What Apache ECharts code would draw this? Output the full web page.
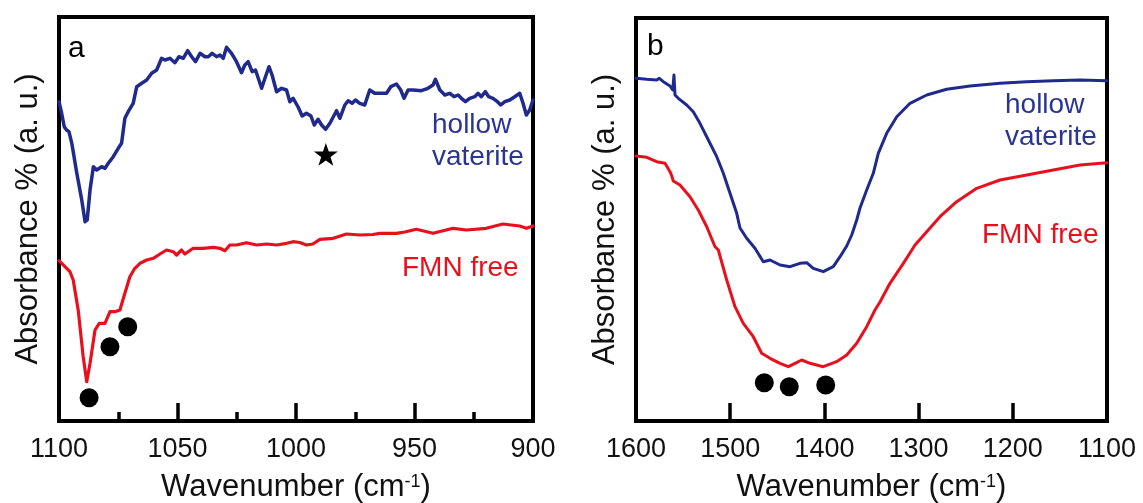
<!DOCTYPE html>
<html>
<head>
<meta charset="utf-8">
<script src="https://cdn.jsdelivr.net/npm/echarts@6/dist/echarts.min.js"></script>
<style>
  html, body { margin: 0; padding: 0; background: #fff; overflow: hidden; }
  #chart { width: 1143px; height: 503px; }
</style>
</head>
<body>
<div id="chart"></div>
<script>
// Panel a: 1100–900 cm-1, [wavenumber, absorbance (a.u.)]
const hollowVateriteA = [
  [1100, 319.3], [1098.9, 308], [1097.8, 294.3], [1096.8, 291], [1095.8, 289.3], [1094.6, 277.7],
  [1092.5, 248], [1090.4, 221], [1089.0, 199.3], [1088.1, 201], [1086.9, 231], [1085.5, 254.3],
  [1084.1, 251], [1082.0, 254.3], [1080.6, 252.7], [1079.2, 257.7], [1077.1, 264.3], [1075.0, 272.7],
  [1073.6, 277.7], [1072.2, 302.7], [1070.8, 309.3], [1068.7, 317.7], [1067.2, 334.3], [1065.1, 337.7],
  [1063.0, 341], [1060.9, 347.7], [1058.8, 351], [1056.7, 362.7], [1055.3, 361], [1053.2, 362.7],
  [1051.1, 358.3], [1049.4, 364.3], [1047.6, 362.7], [1045.7, 370.3], [1044.0, 364.3], [1042.4, 359.3],
  [1040.5, 367.7], [1038.4, 364.3], [1037.0, 364.3], [1035.4, 367.7], [1033.5, 364.3], [1032.1, 366],
  [1030.7, 362.7], [1029.3, 373.7], [1027.2, 367.7], [1025.1, 359.3], [1023.0, 348.3], [1021.6, 356],
  [1020.2, 359.3], [1018.5, 349.3], [1017.1, 351], [1014.5, 332.7], [1013.1, 342.7], [1011.4, 354.3],
  [1010.1, 346], [1008.2, 329.3], [1006.1, 332.7], [1004.0, 331], [1002.6, 319.3], [1001.2, 322.7],
  [999.1, 314], [997.4, 305], [995.6, 307.7], [993.7, 305], [992.3, 296], [990.7, 301.7],
  [989.2, 296], [987.5, 291.7], [985.7, 297.7], [982.9, 310.3], [981.5, 302.7], [979.4, 316],
  [978.0, 320.3], [976.3, 317.7], [974.9, 321], [973.1, 317.7], [971.0, 316], [968.9, 331],
  [966.8, 327.7], [963.9, 327.7], [961.8, 327.7], [960.0, 334.3], [957.6, 337], [955.8, 331],
  [954.4, 322.7], [952.7, 331], [950.6, 331], [947.1, 330.3], [944.3, 332.7], [942.2, 336],
  [941.2, 341.7], [939.3, 331], [937.2, 326], [935.1, 327.7], [933.3, 324.3], [931.6, 326],
  [930.2, 322.7], [928.5, 319.3], [926.7, 322.7], [924.6, 324.3], [923.2, 327.7], [921.8, 324.3],
  [920.1, 329.3], [918.7, 324.3], [916.9, 322.7], [915.0, 319.3], [913.6, 316], [911.9, 319.3],
  [909.8, 321], [907.7, 324.3], [905.6, 327.7], [904.2, 317.7], [902.8, 306], [901.4, 311],
  [900, 321]
];
const fmnFreeA = [
  [1100, 160.3], [1097.5, 154.3], [1095.4, 149.3], [1094.0, 141], [1091.9, 111], [1089.8, 64.3],
  [1088.3, 39.3], [1086.9, 57.7], [1084.8, 91], [1083.0, 97.7], [1080.6, 97.7], [1078.5, 109.3],
  [1076.4, 109.3], [1074.3, 111], [1072.2, 127.7], [1070.1, 144.3], [1068.0, 152.7], [1065.8, 157.7],
  [1063.0, 161], [1060.2, 162.7], [1057.4, 167], [1054.6, 171], [1051.8, 169.3], [1050.4, 166],
  [1048.3, 171], [1046.9, 167], [1045.5, 169.3], [1043.4, 172.7], [1039.2, 172.7], [1034.9, 173.7],
  [1032.1, 172.7], [1030.0, 170.3], [1027.9, 176], [1025.1, 176], [1020.9, 178.3], [1016.6, 176],
  [1012.4, 177], [1008.2, 176], [1004.0, 177.7], [1001.2, 179.3], [998.4, 178.5], [995.6, 176],
  [992.9, 177], [989.9, 181.7], [984.3, 182.7], [978.7, 187], [973.1, 186], [967.6, 186.5],
  [964.6, 187.7], [957.6, 187.7], [954.1, 189], [949.2, 191.7], [942.2, 187.7], [933.7, 192.7],
  [928.1, 191], [919.7, 192.7], [912.7, 197], [905.6, 195], [902.8, 192.7], [900, 195]
];
const bandsA = [[1087.3, 23.3], [1078.5, 74.3], [1071.0, 94.3]];
const starA = [[987.4, 266.7]];

// Panel b: 1600–1100 cm-1
const hollowVateriteB = [
  [1600, 342.7], [1588.6, 341.7], [1578.0, 341], [1575.3, 342.7], [1571.0, 339.3], [1563.9, 335],
  [1561.0, 331], [1559.7, 346], [1558.6, 326], [1555.1, 322.7], [1546.2, 316], [1539.2, 309.3],
  [1532.1, 297.7], [1523.2, 281], [1514.3, 264.3], [1507.3, 247.7], [1500.2, 227.7], [1493.1, 207.7],
  [1489.6, 193], [1482.5, 182.7], [1473.7, 172.7], [1464.9, 159.3], [1457.7, 161], [1447.1, 156],
  [1436.5, 154.3], [1425.9, 157.7], [1418.8, 158.3], [1411.8, 152.7], [1401.2, 149.3], [1390.6, 154.3],
  [1383.4, 164.3], [1376.3, 175], [1371.0, 186], [1365.7, 201], [1362.2, 213], [1355.1, 231],
  [1348.1, 247.7], [1342.8, 267.7], [1333.9, 287.7], [1323.2, 304.3], [1309.1, 317.7], [1291.4, 326],
  [1270.2, 331.7], [1245.4, 335], [1213.6, 337.7], [1185.2, 339.3], [1157.0, 340.3], [1128.7, 341],
  [1100, 340.3]
];
const fmnFreeB = [
  [1600, 265], [1588.6, 263.7], [1578.0, 259.3], [1569.2, 257.7], [1563.9, 249.3], [1562.0, 245],
  [1560.4, 240], [1553.3, 236], [1542.7, 224.3], [1533.9, 211], [1524.9, 194.3], [1516.1, 174.3],
  [1512.6, 171], [1503.7, 141], [1494.9, 114.3], [1486.1, 97.7], [1475.5, 84.3], [1466.6, 67.7],
  [1457.7, 62.7], [1447.1, 57.7], [1438.3, 54.3], [1431.2, 57.7], [1424.1, 61], [1415.3, 57.7],
  [1401.2, 54.3], [1387.1, 59.3], [1376.3, 66], [1365.7, 77.7], [1355.1, 94.3], [1346.3, 111],
  [1341.0, 119], [1330.4, 137.7], [1316.2, 157.7], [1303.8, 176], [1291.4, 189.3], [1277.3, 204.3],
  [1259.6, 219.3], [1238.3, 232.7], [1213.6, 241], [1185.2, 246], [1157.0, 251], [1128.7, 256],
  [1100, 258.3]
];
const bandsB = [[1463.8, 38.3], [1437.3, 34.3], [1398.6, 36]];

const FONT = 'Liberation Sans, Arial, sans-serif';
const BLUE = '#1f2a8c';
const RED = '#e8101c';
const BLUE_TEXT = '#2a3592';
const RED_TEXT = '#e8101c';
const STAR = 'path://M50,0 L61.8,35.1 L98.9,35.4 L69.1,57.5 L80.3,92.7 L50,71.3 L19.7,92.7 L30.9,57.5 L1.1,35.4 L38.2,35.1 Z';

function xAxisFor(gridIndex, min, max, interval, minor) {
  return {
    type: 'value', gridIndex, min, max, interval, inverse: true,
    axisLine: { show: false },
    axisTick: { show: true, inside: true, length: 18, lineStyle: { color: '#000', width: 3.5 } },
    minorTick: { show: minor, splitNumber: 2, length: 9, lineStyle: { color: '#000', width: 3.5 } },
    splitLine: { show: false },
    axisLabel: { show: true, margin: 15, fontSize: 27, color: '#111', fontFamily: FONT, formatter: v => String(v) },
    name: '{m|Wavenumber (cm}{s|-1}{m|)}',
    nameLocation: 'middle', nameGap: 49,
    nameTextStyle: {
      rich: {
        m: { fontSize: 31, fontFamily: FONT, color: '#111', lineHeight: 34 },
        s: { fontSize: 18, fontFamily: FONT, color: '#111', lineHeight: 34, verticalAlign: 'top', padding: [3, 0, 0, 0] }
      }
    }
  };
}
function yAxisFor(gridIndex, max) {
  return {
    type: 'value', gridIndex, min: 0, max,
    axisLine: { show: false }, axisTick: { show: false }, axisLabel: { show: false },
    splitLine: { show: false },
    name: 'Absorbance % (a. u.)', nameLocation: 'middle', nameGap: 15, nameRotate: 90,
    nameTextStyle: { fontSize: 31, fontFamily: FONT, color: '#111' }
  };
}
function curve(name, data, color, width, idx) {
  return {
    name, type: 'line', data, xAxisIndex: idx, yAxisIndex: idx,
    showSymbol: false, symbol: 'none', smooth: false,
    lineStyle: { color, width, join: 'round', cap: 'round' }
  };
}
function marks(data, idx, symbol, size) {
  return {
    type: 'scatter', data, xAxisIndex: idx, yAxisIndex: idx,
    symbol, symbolSize: size, symbolKeepAspect: true,
    itemStyle: { color: '#000', opacity: 1 }, z: 5
  };
}
function label(text, x, y, color) {
  return {
    type: 'text', x, y, z: 10,
    style: { text, fill: color, font: '28px ' + FONT, align: 'left', verticalAlign: 'middle' }
  };
}

const gridBase = { show: true, borderColor: '#000', borderWidth: 4, backgroundColor: 'transparent', outerBoundsMode: 'none', containLabel: false };

const chart = echarts.init(document.getElementById('chart'), null, { renderer: 'canvas' });
chart.setOption({
  animation: false,
  backgroundColor: '#fff',
  grid: [
    Object.assign({ left: 59, top: 17, width: 474, height: 404 }, gridBase),
    Object.assign({ left: 636, top: 18, width: 471, height: 403 }, gridBase)
  ],
  xAxis: [xAxisFor(0, 900, 1100, 50, true), xAxisFor(1, 1100, 1600, 100, false)],
  yAxis: [yAxisFor(0, 404), yAxisFor(1, 403)],
  series: [
    curve('hollow vaterite', hollowVateriteA, BLUE, 3.5, 0),
    curve('FMN free', fmnFreeA, RED, 3.2, 0),
    marks(bandsA, 0, 'circle', 19),
    marks(starA, 0, STAR, 24),
    curve('hollow vaterite', hollowVateriteB, BLUE, 3, 1),
    curve('FMN free', fmnFreeB, RED, 3, 1),
    marks(bandsB, 1, 'circle', 19)
  ],
  graphic: [
    { type: 'text', x: 68, y: 49, z: 10, style: { text: 'a', fill: '#000', font: '30px ' + FONT, verticalAlign: 'middle' } },
    { type: 'text', x: 647, y: 47, z: 10, style: { text: 'b', fill: '#000', font: '30px ' + FONT, verticalAlign: 'middle' } },
    label('hollow', 432, 125, BLUE_TEXT),
    label('vaterite', 432, 157, BLUE_TEXT),
    label('FMN free', 402, 268, RED_TEXT),
    label('hollow', 1005, 105, BLUE_TEXT),
    label('vaterite', 1005, 137, BLUE_TEXT),
    label('FMN free', 982, 235, RED_TEXT)
  ]
});
</script>
</body>
</html>
